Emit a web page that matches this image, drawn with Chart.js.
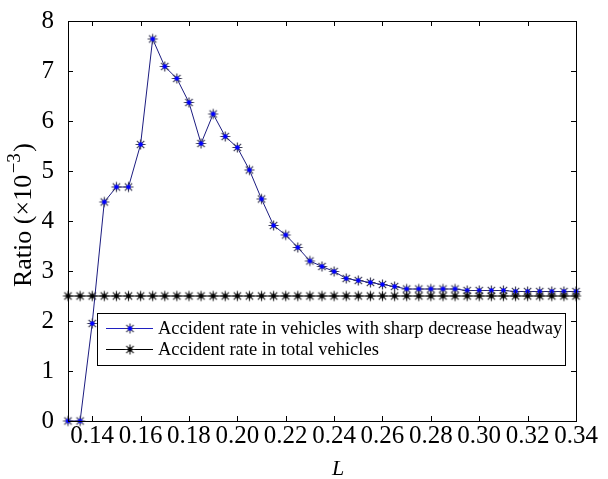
<!DOCTYPE html>
<html><head><meta charset="utf-8">
<style>html,body{margin:0;padding:0;background:#fff;overflow:hidden}</style>
<script src="https://cdn.jsdelivr.net/npm/chart.js@4.4.1/dist/chart.umd.min.js"></script>
</head><body>
<canvas id="c" width="608" height="479" style="display:block;width:608px;height:479px"></canvas>
<script>
// ---- data ----
const L = [0.130,0.135,0.140,0.145,0.150,0.155,0.160,0.165,0.170,0.175,0.180,0.185,0.190,0.195,0.200,0.205,0.210,0.215,0.220,0.225,0.230,0.235,0.240,0.245,0.250,0.255,0.260,0.265,0.270,0.275,0.280,0.285,0.290,0.295,0.300,0.305,0.310,0.315,0.320,0.325,0.330,0.335,0.340];
const sharpDecrease = [0,0,1.95,4.38,4.68,4.68,5.53,7.64,7.09,6.85,6.37,5.55,6.14,5.69,5.47,5.02,4.44,3.91,3.72,3.47,3.20,3.09,2.99,2.85,2.81,2.77,2.73,2.69,2.64,2.64,2.64,2.64,2.64,2.61,2.61,2.61,2.61,2.59,2.59,2.59,2.59,2.59,2.59];
const totalVehicles = [2.5,2.5,2.5,2.5,2.5,2.5,2.5,2.5,2.5,2.5,2.5,2.5,2.5,2.5,2.5,2.5,2.5,2.5,2.5,2.5,2.5,2.5,2.5,2.5,2.5,2.5,2.5,2.5,2.5,2.5,2.5,2.5,2.5,2.5,2.5,2.5,2.5,2.5,2.5,2.5,2.5,2.5,2.5];
const xTicks = [0.14,0.16,0.18,0.20,0.22,0.24,0.26,0.28,0.30,0.32,0.34];
const yTicks = [0,1,2,3,4,5,6,7,8];
const seriesLabels = ['Accident rate in vehicles with sharp decrease headway','Accident rate in total vehicles'];
const xTitle = 'L';
const yTitleMain = 'Ratio (\u00d710';
const yTitleSup = '\u22123';
const yTitleEnd = ')';

const SERIF = '"Liberation Serif", "Times New Roman", serif';

function makeStar(arm, center, r){
  const s = 2*r+5, m = s/2;
  const c = document.createElement('canvas'); c.width = s; c.height = s;
  const g = c.getContext('2d');
  g.strokeStyle = arm; g.lineWidth = 1.2;
  g.beginPath();
  g.moveTo(m-r,m); g.lineTo(m+r,m);
  g.moveTo(m,m-r); g.lineTo(m,m+r);
  const d = r*0.74;
  g.moveTo(m-d,m-d); g.lineTo(m+d,m+d);
  g.moveTo(m-d,m+d); g.lineTo(m+d,m-d);
  g.stroke();
  g.fillStyle = center; g.beginPath(); g.arc(m,m,2.3,0,Math.PI*2); g.fill();
  return c;
}
const blueStar = makeStar('#3a3a55','#0000ff',5);
const blackStar = makeStar('#222222','#000000',5);

const framePlugin = {
  id: 'frame',
  afterDatasetsDraw(chart){
    const {ctx, chartArea:a, scales} = chart;
    ctx.save();
    ctx.strokeStyle = '#000'; ctx.lineWidth = 1;
    ctx.beginPath();
    ctx.rect(Math.round(a.left)+0.5, Math.round(a.top)+0.5, Math.round(a.right-a.left), Math.round(a.bottom-a.top));
    ctx.stroke();
    const tl = 5;
    ctx.beginPath();
    xTicks.forEach(v=>{
      const x = Math.round(scales.x.getPixelForValue(v))+0.5;
      ctx.moveTo(x,a.bottom); ctx.lineTo(x,a.bottom-tl);
      ctx.moveTo(x,a.top); ctx.lineTo(x,a.top+tl);
    });
    yTicks.forEach(v=>{
      const y = Math.round(scales.y.getPixelForValue(v))+0.5;
      ctx.moveTo(a.left,y); ctx.lineTo(a.left+tl,y);
      ctx.moveTo(a.right,y); ctx.lineTo(a.right-tl,y);
    });
    ctx.stroke();
    ctx.restore();
  },
  afterDraw(chart){
    const {ctx, chartArea:a} = chart;
    ctx.save();
    // legend
    const bx = a.left+29, by = a.top+292, bw = 468, bh = 52;
    ctx.fillStyle = '#fff';
    ctx.fillRect(bx,by,bw,bh);
    ctx.strokeStyle = '#000'; ctx.lineWidth = 1;
    ctx.strokeRect(Math.round(bx)+0.5, Math.round(by)+0.5, bw, bh);
    const rows = [
      {label: seriesLabels[0], color:'#2020c0', img: blueStar, y: by+15},
      {label: seriesLabels[1], color:'#000000', img: blackStar, y: by+36}
    ];
    ctx.font = '18.5px ' + SERIF;
    ctx.textBaseline = 'middle';
    ctx.fillStyle = '#000';
    rows.forEach(r=>{
      ctx.strokeStyle = r.color; ctx.lineWidth = 1;
      ctx.beginPath(); ctx.moveTo(bx+9, Math.round(r.y)+0.5); ctx.lineTo(bx+56, Math.round(r.y)+0.5); ctx.stroke();
      ctx.drawImage(r.img, bx+33-r.img.width/2, r.y-r.img.height/2+0.5);
      ctx.fillText(r.label, bx+61, r.y+1);
    });
    // x title
    ctx.font = 'italic 22px ' + SERIF;
    ctx.textAlign = 'center'; ctx.textBaseline = 'alphabetic';
    ctx.fillText(xTitle, 338, 475);
    // y title (rotated)
    ctx.translate(31, 215);
    ctx.rotate(-Math.PI/2);
    ctx.textAlign = 'left';
    ctx.font = '26px ' + SERIF;
    const w1 = ctx.measureText(yTitleMain).width;
    ctx.font = '19px ' + SERIF;
    const w2 = ctx.measureText(yTitleSup).width;
    ctx.font = '26px ' + SERIF;
    const w3 = ctx.measureText(yTitleEnd).width;
    const tot = w1+w2+w3+3;
    let x0 = -tot/2;
    ctx.fillText(yTitleMain, x0, 0);
    ctx.font = '19px ' + SERIF;
    ctx.fillText(yTitleSup, x0+w1+1.5, -11);
    ctx.font = '26px ' + SERIF;
    ctx.fillText(yTitleEnd, x0+w1+w2+3, 0);
    ctx.restore();
  }
};

const toXY = (xs, ys) => xs.map((x,i)=>({x:x, y:ys[i]}));

new Chart(document.getElementById('c'), {
  type: 'line',
  data: {
    datasets: [
      {label: seriesLabels[0], data: toXY(L, sharpDecrease), borderColor:'#1c1c80', borderWidth:1,
       pointStyle: blueStar, pointRadius:5, pointHoverRadius:5, tension:0, fill:false, clip:false, order:2},
      {label: seriesLabels[1], data: toXY(L, totalVehicles), borderColor:'#000000', borderWidth:1,
       pointStyle: blackStar, pointRadius:5, pointHoverRadius:5, tension:0, fill:false, clip:false, order:1}
    ]
  },
  options: {
    responsive:false, animation:false, devicePixelRatio:1,
    layout:{padding:{top:21, right:32, left:0, bottom:0}},
    plugins:{legend:{display:false}, tooltip:{enabled:false}},
    scales:{
      x:{type:'linear', min:0.13, max:0.34,
         afterBuildTicks(s){ s.ticks = xTicks.map(v=>({value:v})); },
         afterFit(s){ s.height = 58; s.paddingLeft = 0; s.paddingRight = 0; },
         ticks:{callback:v=>Number(v).toFixed(2), font:{family:SERIF, size:25}, color:'#000', padding:0, maxRotation:0, autoSkip:false},
         grid:{display:false, drawTicks:false},
         border:{display:true, color:'#000', width:1}},
      y:{type:'linear', min:0, max:8,
         afterBuildTicks(s){ s.ticks = yTicks.map(v=>({value:v})); },
         afterFit(s){ s.width = 68; s.paddingTop = 0; s.paddingBottom = 0; },
         ticks:{callback:v=>String(v), font:{family:SERIF, size:25}, color:'#000', padding:14},
         grid:{display:false, drawTicks:false},
         border:{display:true, color:'#000', width:1}}
    }
  },
  plugins:[framePlugin]
});
</script>
</body></html>
